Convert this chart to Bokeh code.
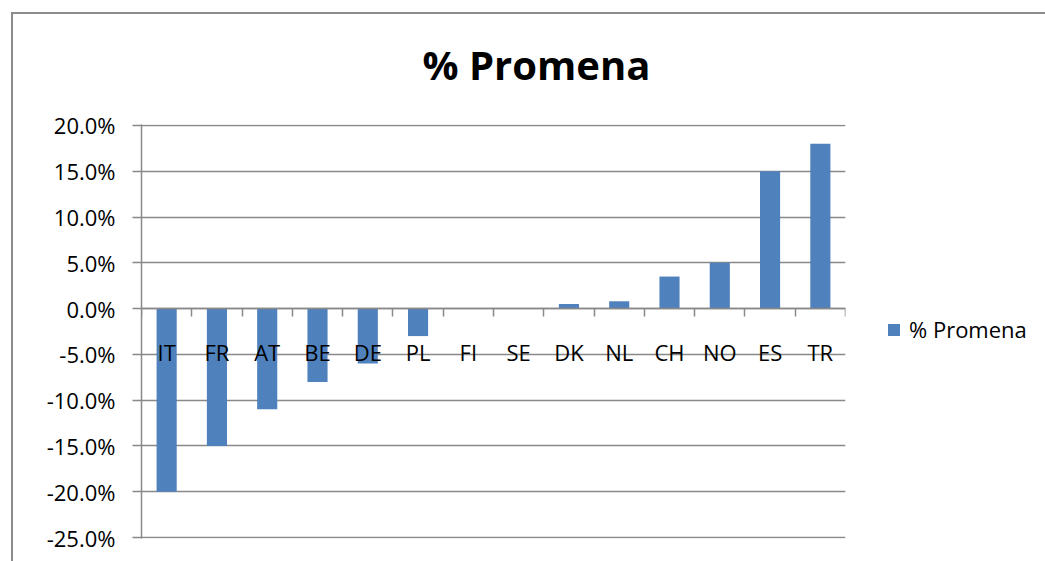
from bokeh.plotting import figure
from bokeh.models import (Range1d, LinearAxis, FixedTicker, NumeralTickFormatter,
                          Legend, LegendItem, ColumnDataSource)
from bokeh.embed import file_html
from bokeh.resources import INLINE

# ---- data ----
categories = ["IT", "FR", "AT", "BE", "DE", "PL", "FI", "SE", "DK", "NL", "CH", "NO", "ES", "TR"]
values = [-0.20, -0.15, -0.11, -0.08, -0.06, -0.03, 0.0, 0.0, 0.005, 0.008, 0.035, 0.05, 0.15, 0.18]
y_ticks = [-0.25, -0.20, -0.15, -0.10, -0.05, 0.0, 0.05, 0.10, 0.15, 0.20]
title_text = "% Promena"
series_name = "% Promena"

BAR = "#4F81BD"
GRID = "#898989"
FONT = "Open Sans"

n = len(categories)
centers = [i + 0.5 for i in range(n)]
bounds = list(range(n + 1))
pad = 0.001

W, H = 1045, 561
FW, FH = 704, 414
p = figure(frame_width=FW, frame_height=FH, x_range=Range1d(0, n),
           y_range=Range1d(y_ticks[0] - pad, y_ticks[-1] + pad),
           output_backend="svg", toolbar_location=None, tools="",
           min_border_left=141, min_border_right=W - 141 - FW,
           min_border_top=124, min_border_bottom=H - 124 - FH,
           x_axis_location=None, y_axis_location=None)
p.outline_line_color = None
p.background_fill_color = "white"
p.border_fill_color = None
p.xgrid.visible = False
p.styles = {
    "background": "linear-gradient(#8c8c8c,#8c8c8c) 11px 12px / 2px 100% no-repeat, "
                  "linear-gradient(#8c8c8c,#8c8c8c) 11px 12px / 100% 2px no-repeat, white"
}

src = ColumnDataSource(dict(x=centers, top=values, cat=categories))
r = p.vbar(x="x", top="top", bottom=0, width=0.4, source=src, fill_color=BAR, line_color=None)

# y axis
yax = LinearAxis(ticker=FixedTicker(ticks=y_ticks), formatter=NumeralTickFormatter(format="0.0%"))
yax.axis_line_color = GRID
yax.axis_line_width = 1.5
yax.major_tick_line_color = GRID
yax.major_tick_line_width = 1.5
yax.major_tick_out = 9
yax.major_tick_in = 0
yax.minor_tick_line_color = None
yax.major_label_standoff = 17
yax.major_label_text_font = FONT
yax.major_label_text_font_size = "22px"
yax.major_label_text_color = "black"
p.add_layout(yax, "left")

p.ygrid.ticker = FixedTicker(ticks=y_ticks)
p.ygrid.grid_line_color = GRID
p.ygrid.grid_line_width = 1.5

# category labels, hanging from the zero line
cax = LinearAxis(fixed_location=0, ticker=FixedTicker(ticks=centers),
                 major_label_overrides={c: lab for c, lab in zip(centers, categories)})
cax.axis_line_color = None
cax.major_tick_line_color = None
cax.major_tick_out = 0
cax.major_tick_in = 0
cax.minor_tick_line_color = None
cax.major_label_standoff = 28
cax.major_label_text_font = FONT
cax.major_label_text_font_size = "22px"
cax.major_label_text_color = "black"
p.add_layout(cax, "below")

# zero line with ticks between categories
tax = LinearAxis(fixed_location=0, ticker=FixedTicker(ticks=bounds),
                 major_label_overrides={b: "" for b in bounds})
tax.axis_line_color = GRID
tax.axis_line_width = 1.5
tax.major_tick_line_color = GRID
tax.major_tick_line_width = 1.5
tax.major_tick_out = 8
tax.major_tick_in = 0
tax.minor_tick_line_color = None
p.add_layout(tax, "below")

# title
p.title.text = title_text
p.title.align = "left"
p.title.offset = 281
p.title.standoff = 66
p.title.text_font = FONT
p.title.text_font_size = "40px"
p.title.text_font_style = "bold"
p.title.text_color = "black"

# legend (outside the plot area, on the right)
legend = Legend(items=[LegendItem(label=series_name, renderers=[r])],
                location=(41, 194), orientation="vertical",
                glyph_width=15, glyph_height=15, label_standoff=8, padding=0, margin=0,
                spacing=0, border_line_color=None, background_fill_alpha=0,
                label_text_font=FONT, label_text_font_size="22px", label_text_color="black")
p.add_layout(legend, "right")

open("out.html", "w").write(file_html(p, INLINE))
